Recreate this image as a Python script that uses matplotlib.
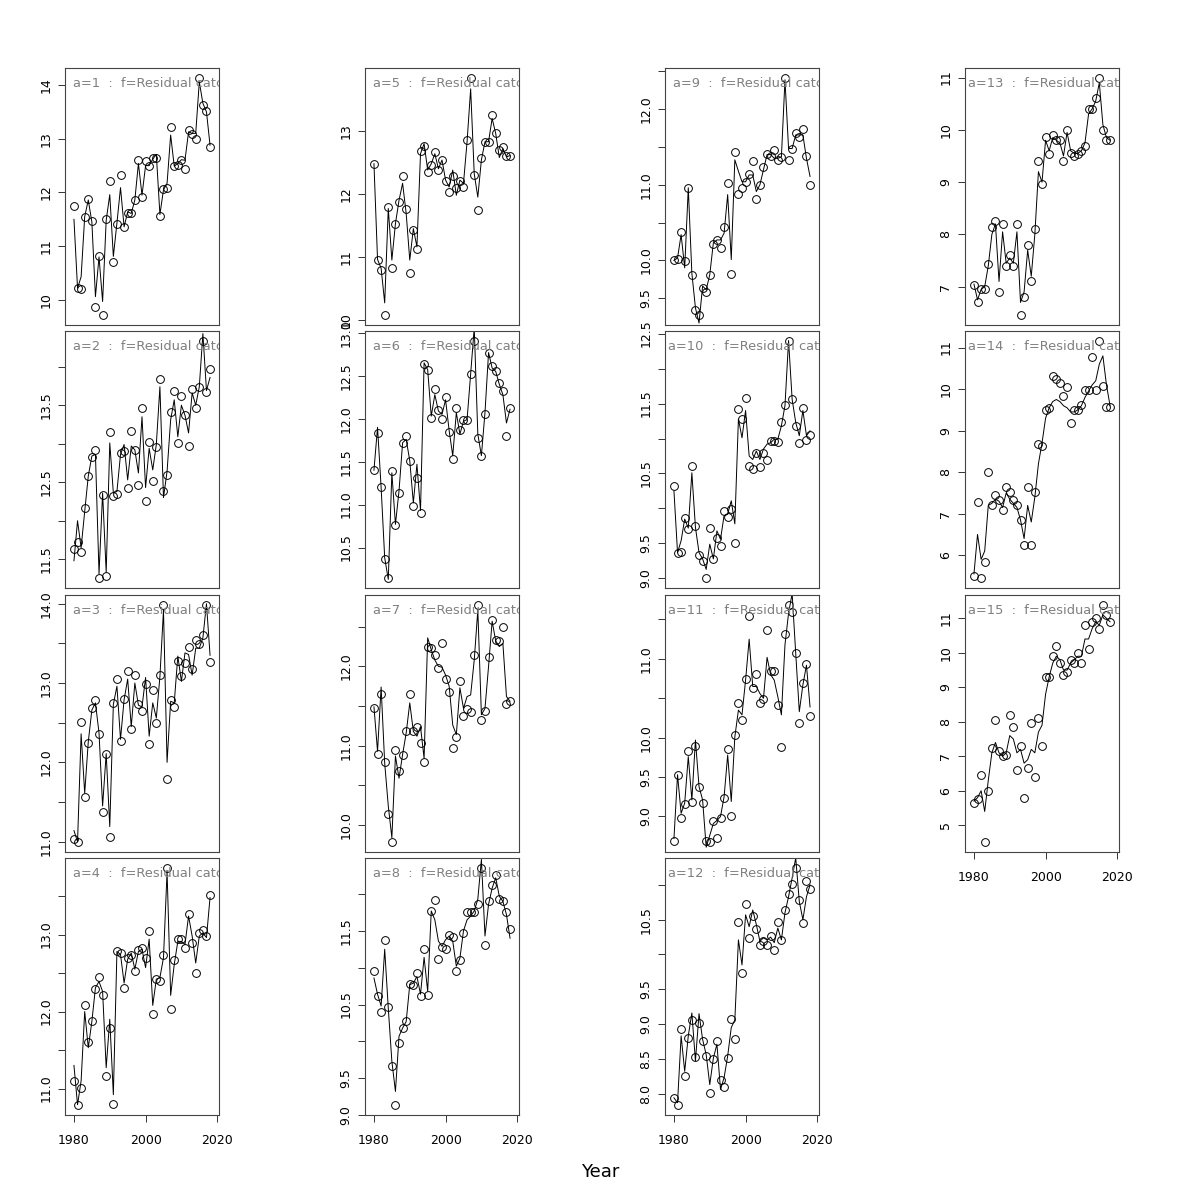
import matplotlib
matplotlib.use("Agg")
import matplotlib.pyplot as plt

# years of the series
years = list(range(1980, 2019))

# observed points (circles) and fitted line, one pair per panel a=1..15
obs_1 = [11.74, 10.23, 10.20, 11.54, 11.87, 11.46, 9.86, 10.81, 9.71, 11.51,
         12.21, 10.70, 11.41, 12.32, 11.35, 11.61, 11.61, 11.86, 12.60, 11.91,
         12.59, 12.49, 12.64, 12.64, 11.56, 12.07, 12.09, 13.22, 12.49, 12.51,
         12.60, 12.44, 13.16, 13.09, 12.99, 14.14, 13.63, 13.52, 12.85]
fit_1 = [11.50, 10.22, 10.43, 11.55, 11.86, 11.45, 10.06, 10.80, 9.97, 11.48,
         11.96, 10.81, 11.43, 12.09, 11.36, 11.64, 11.61, 11.86, 12.54, 11.95,
         12.50, 12.50, 12.62, 12.71, 11.59, 12.05, 12.17, 13.07, 12.49, 12.54,
         12.61, 12.60, 13.13, 13.10, 13.10, 14.06, 13.66, 13.50, 12.88]

obs_2 = [11.63, 11.73, 11.59, 12.16, 12.58, 12.83, 12.92, 11.25, 12.33, 11.28,
         13.15, 12.32, 12.35, 12.88, 12.91, 12.43, 13.16, 12.92, 12.47, 13.46,
         12.26, 13.02, 12.51, 12.96, 13.84, 12.39, 12.59, 13.41, 13.69, 13.01,
         13.62, 13.37, 12.97, 13.71, 13.47, 13.73, 14.34, 13.67, 13.97]
fit_2 = [11.48, 12.00, 11.65, 12.12, 12.58, 12.84, 12.86, 11.31, 12.36, 11.33,
         13.01, 12.36, 12.38, 12.86, 12.99, 12.53, 12.97, 12.92, 12.62, 13.35,
         12.43, 12.94, 12.66, 12.99, 13.74, 12.30, 12.64, 13.31, 13.57, 13.09,
         13.50, 13.37, 13.14, 13.66, 13.50, 13.74, 14.43, 13.69, 13.86]

obs_3 = [11.03, 10.99, 12.51, 11.56, 12.25, 12.68, 12.78, 12.36, 11.37, 12.11,
         11.06, 12.75, 13.05, 12.27, 12.80, 13.15, 12.42, 13.10, 12.73, 12.65,
         12.99, 12.23, 12.91, 12.50, 13.10, 13.99, 11.79, 12.79, 12.70, 13.28,
         13.09, 13.25, 13.45, 13.18, 13.54, 13.49, 13.61, 13.98, 13.26]
fit_3 = [11.14, 11.00, 12.36, 11.61, 12.26, 12.66, 12.75, 12.37, 11.45, 12.11,
         11.19, 12.73, 12.96, 12.29, 12.79, 13.05, 12.45, 13.00, 12.72, 12.70,
         13.07, 12.33, 12.75, 12.56, 13.08, 13.92, 12.00, 12.77, 12.75, 13.34,
         13.02, 13.38, 13.36, 13.10, 13.44, 13.44, 13.57, 14.00, 13.35]

obs_4 = [11.10, 10.78, 11.01, 12.09, 11.61, 11.88, 12.29, 12.45, 12.22, 11.16,
         11.79, 10.80, 12.79, 12.76, 12.31, 12.70, 12.73, 12.52, 12.80, 12.83,
         12.70, 13.04, 11.97, 12.42, 12.40, 12.73, 13.87, 12.03, 12.67, 12.94,
         12.94, 12.83, 13.26, 12.89, 12.50, 13.02, 13.06, 12.98, 13.51]
fit_4 = [11.30, 10.79, 11.10, 12.00, 11.53, 11.87, 12.31, 12.39, 12.26, 11.27,
         11.90, 10.92, 12.78, 12.74, 12.37, 12.68, 12.76, 12.55, 12.78, 12.81,
         12.57, 12.94, 12.08, 12.42, 12.44, 12.70, 13.82, 12.21, 12.61, 12.91,
         12.91, 12.87, 13.24, 12.98, 12.63, 12.98, 13.02, 12.96, 13.48]

obs_5 = [12.48, 10.95, 10.80, 10.07, 11.80, 10.82, 11.52, 11.87, 12.28, 11.76,
         10.75, 11.43, 11.12, 12.68, 12.76, 12.35, 12.46, 12.67, 12.38, 12.54,
         12.21, 12.03, 12.29, 12.09, 12.21, 12.11, 12.85, 13.85, 12.30, 11.75,
         12.57, 12.83, 12.82, 13.26, 12.97, 12.70, 12.74, 12.60, 12.61]
fit_5 = [12.48, 10.96, 10.82, 10.27, 11.77, 10.95, 11.53, 11.90, 12.17, 11.69,
         10.95, 11.45, 11.16, 12.64, 12.80, 12.38, 12.48, 12.64, 12.40, 12.54,
         12.22, 12.11, 12.38, 11.98, 12.22, 12.17, 12.83, 13.67, 12.32, 11.95,
         12.54, 12.83, 12.83, 13.20, 12.96, 12.58, 12.72, 12.59, 12.61]

obs_6 = [11.40, 11.83, 11.20, 10.37, 10.14, 11.39, 10.76, 11.14, 11.72, 11.80,
         11.51, 10.98, 11.31, 10.90, 12.64, 12.57, 12.01, 12.35, 12.10, 12.00,
         12.25, 11.85, 11.53, 12.13, 11.87, 11.99, 11.99, 12.52, 12.91, 11.78,
         11.56, 12.06, 12.76, 12.61, 12.56, 12.41, 12.32, 11.80, 12.12]
fit_6 = [11.40, 11.90, 11.20, 10.38, 10.13, 11.37, 10.77, 11.16, 11.72, 11.76,
         11.51, 11.02, 11.47, 10.93, 12.65, 12.57, 12.03, 12.28, 12.09, 12.05,
         12.22, 11.86, 11.57, 12.07, 11.82, 11.97, 11.99, 12.52, 13.06, 11.82,
         11.57, 12.07, 12.77, 12.59, 12.55, 12.40, 12.28, 11.95, 12.11]

obs_7 = [11.48, 10.90, 11.65, 10.79, 10.14, 9.78, 10.94, 10.68, 10.88, 11.18,
         11.65, 11.18, 11.23, 11.03, 10.79, 12.24, 12.23, 12.14, 11.98, 12.29,
         11.84, 11.68, 10.97, 11.11, 11.82, 11.38, 11.46, 11.43, 12.14, 12.78,
         11.32, 11.44, 12.12, 12.59, 12.33, 12.32, 12.50, 11.53, 11.56]
fit_7 = [11.49, 10.93, 11.74, 10.78, 10.24, 9.84, 10.87, 10.59, 10.89, 11.16,
         11.54, 11.18, 11.12, 11.24, 10.84, 12.36, 12.21, 12.08, 12.00, 11.99,
         11.89, 11.75, 11.26, 11.14, 11.73, 11.47, 11.62, 11.64, 12.08, 12.71,
         11.39, 11.47, 12.00, 12.57, 12.32, 12.25, 12.29, 11.62, 11.56]

obs_8 = [10.95, 10.62, 10.40, 11.37, 10.47, 9.67, 9.13, 9.98, 10.18, 10.28,
         10.78, 10.76, 10.93, 10.61, 11.26, 10.63, 11.77, 11.92, 11.12, 11.28,
         11.25, 11.44, 11.41, 10.96, 11.10, 11.47, 11.76, 11.76, 11.75, 11.87,
         12.36, 11.31, 11.91, 12.12, 12.26, 11.93, 11.90, 11.76, 11.52]
fit_8 = [10.86, 10.64, 10.48, 11.25, 10.45, 9.73, 9.32, 10.07, 10.18, 10.27,
         10.77, 10.79, 10.88, 10.64, 11.14, 10.68, 11.77, 11.65, 11.36, 11.29,
         11.38, 11.43, 11.36, 11.02, 11.13, 11.50, 11.65, 11.70, 11.77, 11.93,
         12.47, 11.43, 11.86, 12.08, 12.22, 11.97, 11.90, 11.72, 11.40]

obs_9 = [10.00, 10.02, 10.37, 9.99, 10.96, 9.81, 9.34, 9.27, 9.63, 9.58,
         9.80, 10.22, 10.27, 10.16, 10.44, 11.02, 9.82, 11.43, 10.88, 10.96,
         11.04, 11.14, 11.32, 10.81, 11.00, 11.24, 11.41, 11.38, 11.46, 11.33,
         11.37, 12.42, 11.33, 11.47, 11.69, 11.63, 11.74, 11.38, 11.00]
fit_9 = [10.00, 10.03, 10.34, 9.90, 10.96, 9.83, 9.37, 9.17, 9.66, 9.61,
         9.81, 10.23, 10.27, 10.27, 10.36, 10.87, 10.01, 11.33, 11.18, 11.04,
         11.04, 11.13, 11.13, 10.91, 11.00, 11.20, 11.40, 11.40, 11.35, 11.35,
         11.37, 12.39, 11.48, 11.48, 11.66, 11.66, 11.66, 11.35, 11.11]

obs_10 = [10.32, 9.37, 9.38, 9.87, 9.71, 10.60, 9.75, 9.33, 9.25, 9.00,
          9.72, 9.28, 9.58, 9.46, 9.96, 9.88, 9.99, 9.51, 11.42, 11.28,
          11.58, 10.61, 10.56, 10.80, 10.59, 10.80, 10.70, 10.96, 10.96, 10.95,
          11.23, 11.48, 12.40, 11.57, 11.18, 10.93, 11.44, 10.98, 11.05]
fit_10 = [10.25, 9.37, 9.54, 9.85, 9.72, 10.51, 9.73, 9.37, 9.28, 9.13,
          9.49, 9.28, 9.68, 9.56, 9.90, 9.92, 10.11, 9.78, 11.28, 11.01,
          11.40, 10.75, 10.70, 10.82, 10.70, 10.85, 10.92, 10.94, 10.99, 10.99,
          11.18, 11.47, 12.40, 11.56, 11.23, 11.04, 11.40, 11.04, 11.11]

obs_11 = [8.69, 9.53, 8.98, 9.16, 9.83, 9.19, 9.89, 9.38, 9.17, 8.69,
          8.67, 8.94, 8.73, 8.98, 9.23, 9.86, 9.00, 10.03, 10.44, 10.22,
          10.74, 11.54, 10.63, 10.81, 10.44, 10.49, 11.37, 10.85, 10.85, 10.41,
          9.88, 11.32, 11.69, 11.60, 11.08, 10.19, 10.70, 10.93, 10.28]
fit_11 = [8.72, 9.53, 9.04, 9.17, 9.76, 9.21, 9.97, 9.38, 9.21, 8.61,
          8.76, 8.91, 8.95, 9.00, 9.25, 9.78, 9.19, 10.01, 10.35, 10.29,
          10.73, 11.25, 10.65, 10.65, 10.56, 10.50, 11.02, 10.80, 10.73, 10.52,
          10.29, 11.18, 11.58, 11.83, 11.07, 10.33, 10.67, 10.92, 10.39]

obs_12 = [7.94, 7.83, 8.93, 8.25, 8.80, 9.06, 8.52, 9.02, 8.76, 8.54,
          8.01, 8.50, 8.75, 8.19, 8.10, 8.51, 9.07, 8.79, 10.46, 9.73,
          10.73, 10.23, 10.55, 10.36, 10.14, 10.19, 10.13, 10.27, 10.07, 10.47,
          10.21, 10.64, 10.87, 11.02, 11.25, 10.78, 10.45, 11.05, 10.94]
fit_12 = [7.94, 7.87, 8.83, 8.32, 8.83, 9.16, 8.47, 9.15, 8.78, 8.56,
          8.13, 8.51, 8.71, 8.06, 8.23, 8.54, 8.95, 9.06, 10.21, 9.85,
          10.57, 10.40, 10.64, 10.43, 10.19, 10.24, 10.21, 10.25, 10.17, 10.38,
          10.21, 10.60, 10.83, 11.10, 11.39, 10.76, 10.50, 10.83, 11.00]

obs_13 = [7.04, 6.70, 6.96, 6.96, 7.43, 8.15, 8.26, 6.90, 8.20, 7.40,
          7.60, 7.40, 8.20, 6.45, 6.80, 7.80, 7.10, 8.10, 9.40, 8.96,
          9.87, 9.53, 9.90, 9.80, 9.80, 9.40, 10.00, 9.55, 9.50, 9.53,
          9.60, 9.70, 10.40, 10.40, 10.60, 11.00, 10.00, 9.80, 9.80]
fit_13 = [7.05, 6.75, 6.95, 7.00, 7.40, 8.00, 8.20, 7.10, 8.05, 7.45,
          7.55, 7.45, 8.05, 6.70, 6.90, 7.70, 7.20, 8.00, 9.20, 9.00,
          9.80, 9.60, 9.85, 9.80, 9.75, 9.50, 9.95, 9.60, 9.55, 9.55,
          9.60, 9.75, 10.30, 10.40, 10.55, 10.90, 10.10, 9.85, 9.80]

obs_14 = [5.49, 7.28, 5.44, 5.83, 8.00, 7.21, 7.45, 7.33, 7.09, 7.64,
          7.52, 7.33, 7.21, 6.85, 6.24, 7.64, 6.24, 7.52, 8.68, 8.63,
          9.50, 9.55, 10.32, 10.25, 10.15, 9.84, 10.06, 9.19, 9.50, 9.50,
          9.62, 9.99, 9.99, 10.78, 9.99, 11.17, 10.08, 9.57, 9.57]
fit_14 = [5.55, 6.50, 5.90, 6.10, 7.20, 7.25, 7.35, 7.30, 7.15, 7.50,
          7.35, 7.25, 7.15, 6.85, 6.40, 7.20, 6.80, 7.40, 8.20, 8.70,
          9.30, 9.55, 9.70, 9.75, 9.70, 9.60, 9.55, 9.45, 9.45, 9.50,
          9.60, 9.80, 9.95, 10.10, 10.20, 10.60, 10.80, 10.10, 9.60]

obs_15 = [5.65, 5.75, 6.45, 4.50, 6.00, 7.25, 8.05, 7.15, 7.00, 7.05,
          8.20, 7.85, 6.60, 7.30, 5.80, 6.65, 7.95, 6.40, 8.10, 7.30,
          9.30, 9.30, 9.90, 10.20, 9.70, 9.35, 9.45, 9.80, 9.70, 10.00,
          9.70, 10.80, 10.10, 10.90, 11.00, 10.70, 11.40, 11.10, 10.90]
fit_15 = [5.70, 5.80, 6.00, 5.40, 6.30, 7.10, 7.40, 7.10, 7.00, 7.10,
          7.60, 7.50, 7.10, 7.20, 6.80, 6.90, 7.20, 7.10, 7.70, 7.90,
          8.80, 9.30, 9.70, 9.90, 9.80, 9.50, 9.50, 9.70, 9.80, 9.90,
          9.90, 10.40, 10.40, 10.70, 10.90, 10.80, 11.10, 11.00, 10.90]

# y ticks and the labels R kept (empty = label dropped for overlap)
yticks_1 = [10, 11, 12, 13, 14]
ylabs_1 = ["10", "11", "12", "13", "14"]
yticks_2 = [11.5, 12, 12.5, 13, 13.5, 14]
ylabs_2 = ["11.5", "", "12.5", "", "13.5", ""]
yticks_3 = [11, 11.5, 12, 12.5, 13, 13.5, 14]
ylabs_3 = ["11.0", "", "12.0", "", "13.0", "", "14.0"]
yticks_4 = [11, 11.5, 12, 12.5, 13, 13.5]
ylabs_4 = ["11.0", "", "12.0", "", "13.0", ""]
yticks_5 = [10, 11, 12, 13]
ylabs_5 = ["10", "11", "12", "13"]
yticks_6 = [10.5, 11, 11.5, 12, 12.5, 13]
ylabs_6 = ["10.5", "11.0", "11.5", "12.0", "12.5", "13.0"]
yticks_7 = [10, 10.5, 11, 11.5, 12, 12.5]
ylabs_7 = ["10.0", "", "11.0", "", "12.0", ""]
yticks_8 = [9, 9.5, 10, 10.5, 11, 11.5, 12]
ylabs_8 = ["9.0", "9.5", "", "10.5", "", "11.5", ""]
yticks_9 = [9.5, 10, 10.5, 11, 11.5, 12, 12.5]
ylabs_9 = ["9.5", "10.0", "", "11.0", "", "12.0", ""]
yticks_10 = [9, 9.5, 10, 10.5, 11, 11.5, 12, 12.5]
ylabs_10 = ["9.0", "9.5", "", "10.5", "", "11.5", "", "12.5"]
yticks_11 = [9, 9.5, 10, 10.5, 11, 11.5]
ylabs_11 = ["9.0", "9.5", "10.0", "", "11.0", ""]
yticks_12 = [8, 8.5, 9, 9.5, 10, 10.5, 11]
ylabs_12 = ["8.0", "8.5", "9.0", "9.5", "", "10.5", ""]
yticks_13 = [7, 8, 9, 10, 11]
ylabs_13 = ["7", "8", "9", "10", "11"]
yticks_14 = [6, 7, 8, 9, 10, 11]
ylabs_14 = ["6", "7", "8", "9", "10", "11"]
yticks_15 = [5, 6, 7, 8, 9, 10, 11]
ylabs_15 = ["5", "6", "7", "8", "9", "10", "11"]

xticks = [1980, 2000, 2020]

panels = [
    (obs_1, fit_1, yticks_1, ylabs_1), (obs_2, fit_2, yticks_2, ylabs_2),
    (obs_3, fit_3, yticks_3, ylabs_3), (obs_4, fit_4, yticks_4, ylabs_4),
    (obs_5, fit_5, yticks_5, ylabs_5), (obs_6, fit_6, yticks_6, ylabs_6),
    (obs_7, fit_7, yticks_7, ylabs_7), (obs_8, fit_8, yticks_8, ylabs_8),
    (obs_9, fit_9, yticks_9, ylabs_9), (obs_10, fit_10, yticks_10, ylabs_10),
    (obs_11, fit_11, yticks_11, ylabs_11), (obs_12, fit_12, yticks_12, ylabs_12),
    (obs_13, fit_13, yticks_13, ylabs_13), (obs_14, fit_14, yticks_14, ylabs_14),
    (obs_15, fit_15, yticks_15, ylabs_15),
]

fig = plt.figure(figsize=(12, 12), dpi=100)
W, H = 1200.0, 1200.0
col_left = [65, 365, 665, 965]
row_top = [68, 331, 595, 858]
pw, ph = 154, 257

for i, (obs, fit, yt, yl) in enumerate(panels):
    a = i + 1
    col, row = divmod(i, 4)
    ax = fig.add_axes([col_left[col] / W, 1 - (row_top[row] + ph) / H, pw / W, ph / H])
    ax.plot(years, fit, color="black", lw=0.7)
    ax.plot(years, obs, "o", mfc="none", mec="black", ms=5.6, mew=0.7)

    # R style: range of the points plus 4 %
    lo, hi = min(obs), max(obs)
    pad = 0.04 * (hi - lo)
    ax.set_ylim(lo - pad, hi + pad)
    ax.set_xlim(1977.5, 2020.5)

    ax.set_yticks(yt)
    ax.set_yticklabels(yl, rotation=90, va="center", fontsize=9)
    if row == 3 or a == 15:
        ax.set_xticks(xticks)
        ax.set_xticklabels([str(x) for x in xticks], fontsize=9)
    else:
        ax.set_xticks([])
    ax.tick_params(direction="out", length=5, width=0.7, color="#333333")
    ax.tick_params(axis="y", pad=4)
    ax.tick_params(axis="x", pad=9)
    for s in ax.spines.values():
        s.set_linewidth(0.8)
        s.set_color("#444444")

    ax.text(0.563, 0.938, "a=%d  :  f=Residual catch" % a, transform=ax.transAxes,
            ha="center", va="center", color="gray", fontsize=9.4, clip_on=True)

fig.text(0.5, 1 - 1172 / H, "Year", ha="center", va="center", fontsize=13)

fig.savefig("out.png", dpi=100)
